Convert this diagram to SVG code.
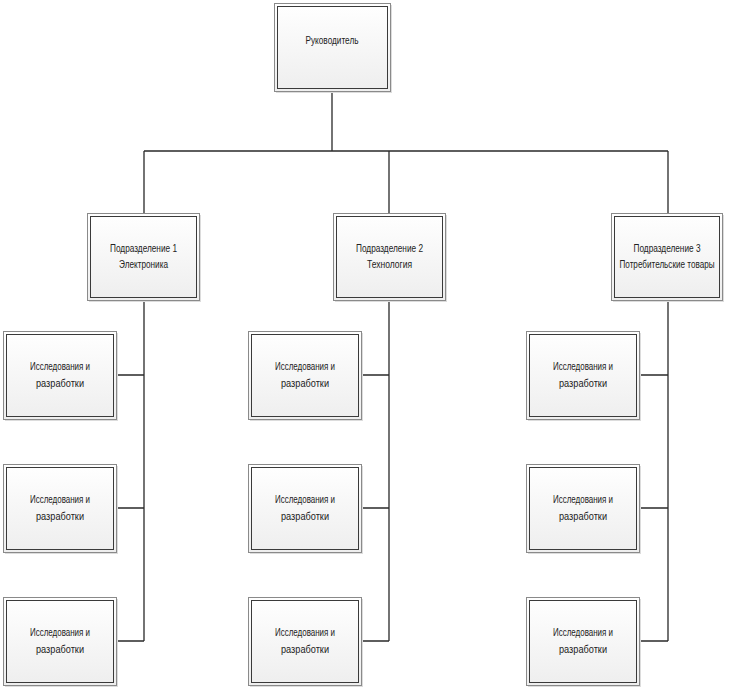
<svg xmlns="http://www.w3.org/2000/svg" width="729" height="694" viewBox="0 0 729 694">
<defs>
<linearGradient id="g" x1="0" y1="0" x2="0" y2="1">
<stop offset="0" stop-color="#ffffff"/>
<stop offset="1" stop-color="#eeeeee"/>
</linearGradient>
<style>
.sh{fill:#dcdcdc;stroke:none}
.o{fill:url(#g);stroke:#8a8a8a;stroke-width:1}
.i{fill:none;stroke:#3a3a3a;stroke-width:1}
.t{font-family:"Liberation Sans",Arial,sans-serif;font-size:11px;fill:#222;text-anchor:middle}
.c{fill:none;stroke:#2a2a2a;stroke-width:1.3}
</style>
</defs>
<rect width="729" height="694" fill="#ffffff"/>
<g id="connectors">
<path class="c" d="M332 91V151M144 151H668M144 151V213M389 151V213M668 151V213"/>
<path class="c" d="M144 300V641M116 375H144M116 508H144M116 641H144"/>
<path class="c" d="M389 300V641M361 375H389M361 508H389M361 641H389"/>
<path class="c" d="M668 300V641M639 375H668M639 508H668M639 641H668"/>
</g>
<g id="head" transform="translate(274,3)">
<rect class="sh" x="2" y="2" width="116" height="88"/>
<rect class="o" x="0.5" y="0.5" width="116" height="88"/>
<rect class="i" x="3.5" y="3.5" width="110" height="82"/>
<text class="t" x="58" y="41" textLength="53" lengthAdjust="spacingAndGlyphs">Руководитель</text>
</g>
<g id="div1" transform="translate(87,213)">
<rect class="sh" x="2" y="2" width="112" height="87"/>
<rect class="o" x="0.5" y="0.5" width="112" height="87"/>
<rect class="i" x="3.5" y="3.5" width="106" height="81"/>
<text class="t" x="56.5" y="39" textLength="67" lengthAdjust="spacingAndGlyphs">Подразделение 1</text>
<text class="t" x="56.5" y="55" textLength="49" lengthAdjust="spacingAndGlyphs">Электроника</text>
</g>
<g id="div2" transform="translate(333,213)">
<rect class="sh" x="2" y="2" width="112" height="87"/>
<rect class="o" x="0.5" y="0.5" width="112" height="87"/>
<rect class="i" x="3.5" y="3.5" width="106" height="81"/>
<text class="t" x="56.5" y="39" textLength="67" lengthAdjust="spacingAndGlyphs">Подразделение 2</text>
<text class="t" x="56.5" y="55" textLength="45" lengthAdjust="spacingAndGlyphs">Технология</text>
</g>
<g id="div3" transform="translate(611,213)">
<rect class="sh" x="2" y="2" width="111" height="87"/>
<rect class="o" x="0.5" y="0.5" width="111" height="87"/>
<rect class="i" x="3.5" y="3.5" width="105" height="81"/>
<text class="t" x="56" y="39" textLength="67" lengthAdjust="spacingAndGlyphs">Подразделение 3</text>
<text class="t" transform="translate(56,55) scale(0.74,1)" x="0" y="0">Потребительские товары</text>
</g>
<g id="c11" transform="translate(3,331)">
<rect class="sh" x="2" y="2" width="113" height="88"/><rect class="o" x="0.5" y="0.5" width="113" height="88"/><rect class="i" x="3.5" y="3.5" width="107" height="82"/>
<text class="t" x="57" y="39" textLength="60" lengthAdjust="spacingAndGlyphs">Исследования и</text><text class="t" x="57" y="56" textLength="48" lengthAdjust="spacingAndGlyphs">разработки</text>
</g>
<g id="c12" transform="translate(3,464)">
<rect class="sh" x="2" y="2" width="113" height="88"/><rect class="o" x="0.5" y="0.5" width="113" height="88"/><rect class="i" x="3.5" y="3.5" width="107" height="82"/>
<text class="t" x="57" y="39" textLength="60" lengthAdjust="spacingAndGlyphs">Исследования и</text><text class="t" x="57" y="56" textLength="48" lengthAdjust="spacingAndGlyphs">разработки</text>
</g>
<g id="c13" transform="translate(3,597)">
<rect class="sh" x="2" y="2" width="113" height="88"/><rect class="o" x="0.5" y="0.5" width="113" height="88"/><rect class="i" x="3.5" y="3.5" width="107" height="82"/>
<text class="t" x="57" y="39" textLength="60" lengthAdjust="spacingAndGlyphs">Исследования и</text><text class="t" x="57" y="56" textLength="48" lengthAdjust="spacingAndGlyphs">разработки</text>
</g>
<g id="c21" transform="translate(248,331)">
<rect class="sh" x="2" y="2" width="113" height="88"/><rect class="o" x="0.5" y="0.5" width="113" height="88"/><rect class="i" x="3.5" y="3.5" width="107" height="82"/>
<text class="t" x="57" y="39" textLength="60" lengthAdjust="spacingAndGlyphs">Исследования и</text><text class="t" x="57" y="56" textLength="48" lengthAdjust="spacingAndGlyphs">разработки</text>
</g>
<g id="c22" transform="translate(248,464)">
<rect class="sh" x="2" y="2" width="113" height="88"/><rect class="o" x="0.5" y="0.5" width="113" height="88"/><rect class="i" x="3.5" y="3.5" width="107" height="82"/>
<text class="t" x="57" y="39" textLength="60" lengthAdjust="spacingAndGlyphs">Исследования и</text><text class="t" x="57" y="56" textLength="48" lengthAdjust="spacingAndGlyphs">разработки</text>
</g>
<g id="c23" transform="translate(248,597)">
<rect class="sh" x="2" y="2" width="113" height="88"/><rect class="o" x="0.5" y="0.5" width="113" height="88"/><rect class="i" x="3.5" y="3.5" width="107" height="82"/>
<text class="t" x="57" y="39" textLength="60" lengthAdjust="spacingAndGlyphs">Исследования и</text><text class="t" x="57" y="56" textLength="48" lengthAdjust="spacingAndGlyphs">разработки</text>
</g>
<g id="c31" transform="translate(526,331)">
<rect class="sh" x="2" y="2" width="113" height="88"/><rect class="o" x="0.5" y="0.5" width="113" height="88"/><rect class="i" x="3.5" y="3.5" width="107" height="82"/>
<text class="t" x="57" y="39" textLength="60" lengthAdjust="spacingAndGlyphs">Исследования и</text><text class="t" x="57" y="56" textLength="48" lengthAdjust="spacingAndGlyphs">разработки</text>
</g>
<g id="c32" transform="translate(526,464)">
<rect class="sh" x="2" y="2" width="113" height="88"/><rect class="o" x="0.5" y="0.5" width="113" height="88"/><rect class="i" x="3.5" y="3.5" width="107" height="82"/>
<text class="t" x="57" y="39" textLength="60" lengthAdjust="spacingAndGlyphs">Исследования и</text><text class="t" x="57" y="56" textLength="48" lengthAdjust="spacingAndGlyphs">разработки</text>
</g>
<g id="c33" transform="translate(526,597)">
<rect class="sh" x="2" y="2" width="113" height="88"/><rect class="o" x="0.5" y="0.5" width="113" height="88"/><rect class="i" x="3.5" y="3.5" width="107" height="82"/>
<text class="t" x="57" y="39" textLength="60" lengthAdjust="spacingAndGlyphs">Исследования и</text><text class="t" x="57" y="56" textLength="48" lengthAdjust="spacingAndGlyphs">разработки</text>
</g>
</svg>
